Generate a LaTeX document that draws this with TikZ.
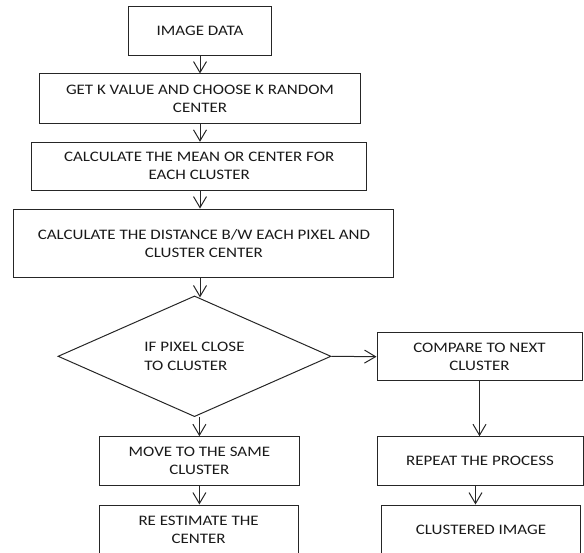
\documentclass[tikz,border=0pt]{standalone}
\usepackage{fontspec}
\setmainfont[FakeStretch=1.17]{Carlito}
\usetikzlibrary{arrows.meta,shapes.geometric,calc}
\begin{document}
\begin{tikzpicture}[x=1pt,y=-1pt,
  every node/.style={font=\fontsize{14.5}{18.3}\selectfont, text=black!90},
  box/.style={draw=black!85, line width=1pt, rectangle, inner sep=0pt, align=center},
  arr/.style={draw=black!85, line width=1pt, -{Straight Barb[length=11pt,width=13pt,line width=1pt]}},
  ]
\useasboundingbox (0,0) rectangle (584,553);
\node[box, minimum width=143pt, minimum height=49pt] (b1) at (200,31.2) {IMAGE DATA};
\node[box, minimum width=321pt, minimum height=50pt] (b2) at (200,99) {GET K VALUE AND CHOOSE K RANDOM\\CENTER};
\node[box, minimum width=335.5pt, minimum height=48.4pt] (b3) at (199.2,166.5) {\raisebox{-2pt}{\begin{tabular}{@{}c@{}}CALCULATE THE MEAN OR CENTER FOR\\EACH CLUSTER\end{tabular}}};
\node[box, minimum width=380pt, minimum height=68.3pt] (b4) at (203.9,243.2) {CALCULATE THE DISTANCE B/W EACH PIXEL AND\\CLUSTER CENTER};
\node[draw=black!85, line width=1pt, diamond, aspect=2.26, inner sep=0pt, minimum width=273pt, minimum height=120.7pt, align=left] (dec) at (194.5,356.3) {IF PIXEL CLOSE\\TO CLUSTER};
\node[box, minimum width=205pt, minimum height=48pt] (cmp) at (479.5,356.7) {COMPARE TO NEXT\\CLUSTER};
\node[box, minimum width=206pt, minimum height=48.6pt] (rep) at (480,461) {REPEAT THE PROCESS};
\node[box, minimum width=199.5pt, minimum height=49pt] (clu) at (481,529.5) {CLUSTERED IMAGE};
\node[box, minimum width=200.3pt, minimum height=48.6pt] (mv) at (199.4,461) {MOVE TO THE SAME\\CLUSTER};
\node[box, minimum width=199pt, minimum height=49pt] (re) at (198.6,529.5) {RE ESTIMATE THE\\CENTER};
\draw[arr] (b1.south) -- (b2.north);
\draw[arr] (b2.south) -- (b2.south |- b3.north);
\draw[arr] (b2.south |- b3.south) -- (b2.south |- b4.north);
\draw[arr] (b2.south |- b4.south) -- ($(b2.south |- dec.north)+(0,2)$);
\draw[arr] (dec.east) -- (cmp.west);
\draw[arr] (dec.south -| mv.north) -- (mv.north);
\draw[arr] (mv.south) -- (mv.south |- re.north);
\draw[arr] (cmp.south) -- (cmp.south |- rep.north);
\draw[arr] ([xshift=-4.5pt]rep.south) -- ([xshift=-4.5pt]rep.south |- clu.north);
\end{tikzpicture}
\end{document}
